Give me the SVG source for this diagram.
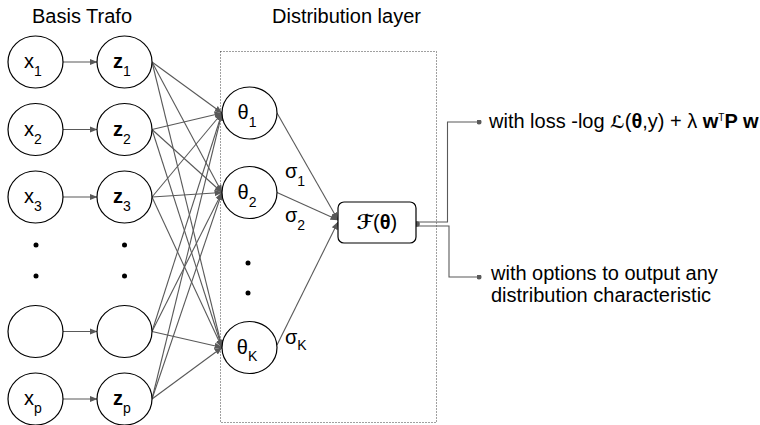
<svg xmlns="http://www.w3.org/2000/svg" width="760" height="425" viewBox="0 0 760 425">
  <defs>
    <marker id="arr" viewBox="0 0 8 8" refX="7.5" refY="4" markerWidth="8" markerHeight="8" markerUnits="userSpaceOnUse" orient="auto">
      <path d="M0,0.8 L8,4 L0,7.2 z" fill="#595959"/>
    </marker>
    <marker id="dot" viewBox="0 0 6 6" refX="3" refY="3" markerWidth="5" markerHeight="5" markerUnits="userSpaceOnUse">
      <circle cx="3" cy="3" r="3" fill="#595959"/>
    </marker>
  </defs>
  <style>
    .node { fill: #ffffff; stroke: #000000; stroke-width: 1.2; }
    .lbl { font-family: "Liberation Sans", Arial, sans-serif; font-size: 20px; fill: #000000; }
    .sub { font-size: 14px; }
    .b { font-weight: bold; }
    .title { font-family: "Liberation Sans", Arial, sans-serif; font-size: 20px; fill: #000000; }
    .edge { fill: none; stroke: #595959; stroke-width: 1.1; marker-end: url(#arr); }
    .out { fill: none; stroke: #595959; stroke-width: 1.1; }
    .dotpt { fill: #000000; }
  </style>

  <rect width="760" height="425" fill="#ffffff"/>

  <!-- headings -->
  <text class="title" x="32" y="23">Basis Trafo</text>
  <text class="title" x="272" y="23">Distribution layer</text>

  <!-- distribution layer frame -->
  <rect id="frame" x="220.5" y="51.5" width="216" height="371" fill="none" stroke="#404040" stroke-width="1" stroke-dasharray="1,2"/>

  <!-- connectors -->
  <g id="connectors">
    <!-- x -> z -->
    <line class="edge" x1="63" y1="62" x2="97" y2="62"/>
    <line class="edge" x1="63" y1="129.5" x2="97" y2="129.5"/>
    <line class="edge" x1="63" y1="197" x2="97" y2="197"/>
    <line class="edge" x1="63" y1="331.5" x2="97" y2="331.5"/>
    <line class="edge" x1="63" y1="399" x2="97" y2="399"/>
    <!-- z -> theta (fully connected) -->
    <line class="edge" x1="152" y1="62" x2="222" y2="113"/>
    <line class="edge" x1="152" y1="62" x2="222" y2="192.5"/>
    <line class="edge" x1="152" y1="62" x2="222" y2="347.5"/>
    <line class="edge" x1="152" y1="129.5" x2="222" y2="113"/>
    <line class="edge" x1="152" y1="129.5" x2="222" y2="192.5"/>
    <line class="edge" x1="152" y1="129.5" x2="222" y2="347.5"/>
    <line class="edge" x1="152" y1="197" x2="222" y2="113"/>
    <line class="edge" x1="152" y1="197" x2="222" y2="192.5"/>
    <line class="edge" x1="152" y1="197" x2="222" y2="347.5"/>
    <line class="edge" x1="152" y1="331.5" x2="222" y2="113"/>
    <line class="edge" x1="152" y1="331.5" x2="222" y2="192.5"/>
    <line class="edge" x1="152" y1="331.5" x2="222" y2="347.5"/>
    <line class="edge" x1="152" y1="399" x2="222" y2="113"/>
    <line class="edge" x1="152" y1="399" x2="222" y2="192.5"/>
    <line class="edge" x1="152" y1="399" x2="222" y2="347.5"/>
    <!-- theta -> F -->
    <line class="edge" x1="277" y1="113" x2="338" y2="220"/>
    <line class="edge" x1="277" y1="192.5" x2="338" y2="220"/>
    <line class="edge" x1="277" y1="345" x2="338" y2="222"/>
    <!-- F -> outputs -->
    <path class="out" d="M416,222 H447.5 V122 H479" marker-end="url(#dot)"/>
    <path class="out" d="M416,226 H449 V277 H479" marker-end="url(#dot)"/>
    <circle cx="417" cy="224" r="2.8" fill="#595959"/>
  </g>

  <!-- input column -->
  <g id="x1"><ellipse class="node" cx="35.5" cy="62" rx="27.5" ry="26"/><text class="lbl" x="33" y="68" text-anchor="middle">x<tspan class="sub" dy="8">1</tspan></text></g>
  <g id="x2"><ellipse class="node" cx="35.5" cy="129.5" rx="27.5" ry="26"/><text class="lbl" x="33" y="135.5" text-anchor="middle">x<tspan class="sub" dy="8">2</tspan></text></g>
  <g id="x3"><ellipse class="node" cx="35.5" cy="197" rx="27.5" ry="26"/><text class="lbl" x="33" y="203" text-anchor="middle">x<tspan class="sub" dy="8">3</tspan></text></g>
  <g id="xdots"><circle class="dotpt" cx="36" cy="245" r="2.5"/><circle class="dotpt" cx="36" cy="276" r="2.5"/></g>
  <g id="xk"><ellipse class="node" cx="35.5" cy="331.5" rx="27.5" ry="26"/></g>
  <g id="xp"><ellipse class="node" cx="35.5" cy="399" rx="27.5" ry="26"/><text class="lbl" x="33" y="405" text-anchor="middle">x<tspan class="sub" dy="8">p</tspan></text></g>

  <!-- basis transformation column -->
  <g id="z1"><ellipse class="node" cx="124.5" cy="62" rx="27.5" ry="26"/><text class="lbl" x="122" y="68" text-anchor="middle"><tspan class="b">z</tspan><tspan class="sub" dy="8">1</tspan></text></g>
  <g id="z2"><ellipse class="node" cx="124.5" cy="129.5" rx="27.5" ry="26"/><text class="lbl" x="122" y="135.5" text-anchor="middle"><tspan class="b">z</tspan><tspan class="sub" dy="8">2</tspan></text></g>
  <g id="z3"><ellipse class="node" cx="124.5" cy="197" rx="27.5" ry="26"/><text class="lbl" x="122" y="203" text-anchor="middle"><tspan class="b">z</tspan><tspan class="sub" dy="8">3</tspan></text></g>
  <g id="zdots"><circle class="dotpt" cx="124.5" cy="245" r="2.5"/><circle class="dotpt" cx="124.5" cy="276" r="2.5"/></g>
  <g id="zk"><ellipse class="node" cx="124.5" cy="331.5" rx="27.5" ry="26"/></g>
  <g id="zp"><ellipse class="node" cx="124.5" cy="399" rx="27.5" ry="26"/><text class="lbl" x="122" y="405" text-anchor="middle"><tspan class="b">z</tspan><tspan class="sub" dy="8">p</tspan></text></g>

  <!-- distribution parameters -->
  <g id="theta1"><ellipse class="node" cx="249.5" cy="113" rx="27.5" ry="26"/><text class="lbl" x="247" y="119" text-anchor="middle">θ<tspan class="sub" dy="8">1</tspan></text></g>
  <g id="theta2"><ellipse class="node" cx="249.5" cy="192.5" rx="27.5" ry="26"/><text class="lbl" x="247" y="198.5" text-anchor="middle">θ<tspan class="sub" dy="8">2</tspan></text></g>
  <g id="thetadots"><circle class="dotpt" cx="248" cy="263" r="2.5"/><circle class="dotpt" cx="248" cy="293" r="2.5"/></g>
  <g id="thetaK"><ellipse class="node" cx="249.5" cy="347.5" rx="27.5" ry="26"/><text class="lbl" x="247" y="353.5" text-anchor="middle">θ<tspan class="sub" dy="7">K</tspan></text></g>

  <!-- link labels -->
  <g id="sigmas">
    <text class="lbl" x="285" y="178">σ<tspan class="sub" dy="8">1</tspan></text>
    <text class="lbl" x="285" y="222">σ<tspan class="sub" dy="8">2</tspan></text>
    <text class="lbl" x="285" y="344">σ<tspan class="sub" dy="6">K</tspan></text>
  </g>

  <!-- distribution function -->
  <g id="F">
    <rect class="node" x="338" y="202" width="78" height="41" rx="6"/>
    <text class="lbl" x="377" y="229" text-anchor="middle"><tspan class="b" font-family="DejaVu Sans, sans-serif" font-style="italic">ℱ</tspan>(<tspan class="b">θ</tspan>)</text>
  </g>

  <!-- outputs -->
  <g id="loss">
    <text class="lbl" x="489" y="128" font-size="18">with loss -log <tspan class="b" font-family="DejaVu Sans, sans-serif" font-style="italic" font-size="17">ℒ</tspan>(<tspan class="b">θ</tspan>,y) + λ <tspan class="b">w</tspan><tspan font-size="10" dy="-7">T</tspan><tspan class="b" dy="7">P w</tspan></text>
  </g>
  <g id="options">
    <text class="lbl" x="491" y="280">with options to output any</text>
    <text class="lbl" x="491" y="302">distribution characteristic</text>
  </g>
</svg>
